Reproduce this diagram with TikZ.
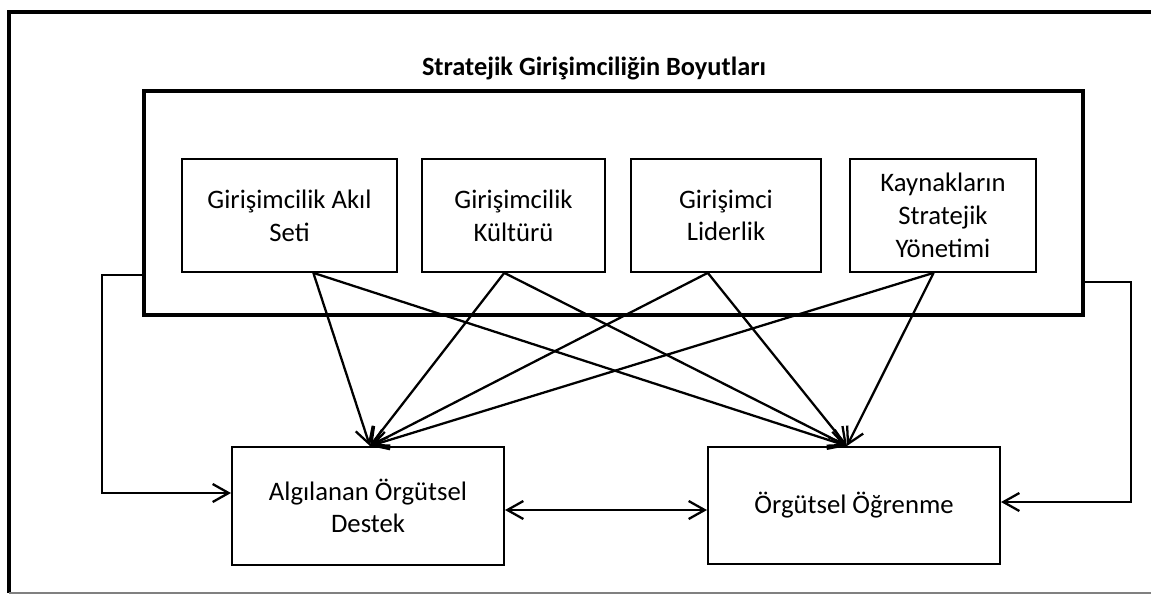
\documentclass[tikz,border=0pt]{standalone}
\usepackage{fontspec}
\setmainfont{Carlito}
\usetikzlibrary{arrows.meta, calc}

\begin{document}
\begin{tikzpicture}[
  x=0.02cm, y=-0.02cm,
  >={Straight Barb[length=3.2mm, width=3.6mm, line width=1.3pt]},
  every node/.style={font=\fontsize{15.2}{18.6}\selectfont, align=center, inner sep=0pt},
  dimbox/.style={draw, line width=1pt, minimum height=2.26cm},
  outbox/.style={draw, line width=1.2pt},
  link/.style={line width=1.3pt},
  side/.style={line width=1pt},
]

\useasboundingbox (0,0) rectangle (1151,595);

% Page frame
\draw[line width=2pt] (1160,12) -- (9,12) -- (9,593);
\draw[gray, line width=0.7pt] (9,593) -- (1160,593);

% Title
\node[font=\fontsize{15}{18}\selectfont\bfseries, anchor=base] (title) at (594,75)
  {Stratejik Girişimciliğin Boyutları};

% Dimensions frame
\node[draw, line width=2pt, minimum width=18.78cm, minimum height=4.48cm] (boyut) at (613.5,203) {};

% Dimension boxes
\node[dimbox, minimum width=4.30cm] (b1) at (289.5,215.5) {Girişimcilik Akıl\\Seti};
\node[dimbox, minimum width=3.66cm] (b2) at (513.5,215.5) {Girişimcilik\\Kültürü};
\node[dimbox, minimum width=3.80cm] (b3) at (726,215.5) {Girişimci\\Liderlik};
\node[dimbox, minimum width=3.72cm] (b4) at (943,215.5) {Kaynakların\\Stratejik\\Yönetimi};

% Outcome boxes
\node[outbox, minimum width=5.44cm, minimum height=2.36cm] (a) at (368,506) {Algılanan Örgütsel\\Destek};
\node[outbox, minimum width=5.84cm, minimum height=2.34cm] (o) at (854,505.5) {Örgütsel Öğrenme};

% Arrow ends
\coordinate (s1) at ($(b1.south west)!0.61!(b1.south east)$);
\coordinate (s2) at ($(b2.south west)!0.45!(b2.south east)$);
\coordinate (s3) at ($(b3.south west)!0.405!(b3.south east)$);
\coordinate (s4) at ($(b4.south west)!0.45!(b4.south east)$);
\coordinate (ta) at ($(a.north west)!0.507!(a.north east)$);
\coordinate (to) at ($(o.north west)!0.476!(o.north east)$);

% Effects of each dimension
\foreach \s in {s1,s2,s3,s4}
  \foreach \t in {ta,to}
    \draw[link, ->] (\s) -- (\t);

% Side links
\draw[side, ->] ([yshift=-1.44cm]boyut.west) -- ++(-0.8cm,0) |- ([yshift=0.26cm]a.west);
\draw[side, ->] ([yshift=-1.58cm]boyut.east) -- ++(0.92cm,0) |- ([yshift=0.07cm]o.east);

% Mutual link
\draw[link, <->] ([yshift=-0.08cm]a.east) -- ([yshift=-0.08cm]a.east -| o.west);

\end{tikzpicture}
\end{document}
